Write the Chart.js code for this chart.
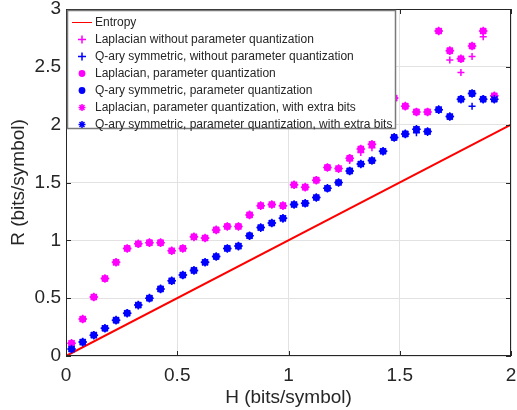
<!DOCTYPE html>
<html lang="en">
<head>
<meta charset="UTF-8">
<title>Rate vs entropy</title>
<script src="https://cdn.jsdelivr.net/npm/chart.js"></script>
<style>
  html, body { margin: 0; padding: 0; background: #fff; }
  #wrap { width: 517px; height: 410px; }
</style>
</head>
<body>
<div id="wrap"><canvas id="rateChart" width="517" height="410"></canvas></div>
<script>
// entropy H of each test source (bits/symbol)
const H = [0.025, 0.075, 0.125, 0.175, 0.225, 0.275, 0.325, 0.375, 0.425, 0.475,
           0.525, 0.575, 0.625, 0.675, 0.725, 0.775, 0.825, 0.875, 0.925, 0.975,
           1.025, 1.075, 1.125, 1.175, 1.225, 1.275, 1.325, 1.375, 1.425, 1.475,
           1.525, 1.575, 1.625, 1.675, 1.725, 1.775, 1.825, 1.875, 1.925];

// entropy bound R = H
const entropyH = [0, 2];
const entropyR = [0, 2];

// Laplacian without parameter quantization
const lapPlain = [0.11, 0.32, 0.51, 0.67, 0.81, 0.93, 0.97, 0.98, 0.98, 0.91,
                  0.93, 1.03, 1.02, 1.09, 1.12, 1.12, 1.22, 1.30, 1.31, 1.30,
                  1.48, 1.46, 1.52, 1.63, 1.62, 1.69, 1.76, 1.80, 2.05, 2.23,
                  2.16, 2.11, 2.11, 2.81, 2.56, 2.45, 2.59, 2.76, 2.25];
// Q-ary symmetric without parameter quantization
const qPlain = [0.06, 0.12, 0.18, 0.24, 0.31, 0.37, 0.44, 0.50, 0.58, 0.65,
                0.70, 0.74, 0.81, 0.86, 0.93, 0.95, 1.04, 1.11, 1.15, 1.19,
                1.31, 1.32, 1.37, 1.45, 1.50, 1.60, 1.66, 1.69, 1.77, 1.89,
                1.92, 1.93, 1.94, 2.13, 2.07, 2.22, 2.16, 2.22, 2.22];
// Laplacian, parameter quantization
const lapQuant = [0.11, 0.32, 0.51, 0.67, 0.81, 0.93, 0.97, 0.98, 0.98, 0.91,
                  0.93, 1.03, 1.02, 1.09, 1.12, 1.12, 1.22, 1.30, 1.31, 1.30,
                  1.48, 1.46, 1.52, 1.63, 1.62, 1.71, 1.79, 1.83, 2.05, 2.23,
                  2.16, 2.11, 2.11, 2.81, 2.64, 2.57, 2.68, 2.81, 2.25];
// Q-ary symmetric, parameter quantization
const qQuant = [0.06, 0.12, 0.18, 0.24, 0.31, 0.37, 0.44, 0.50, 0.58, 0.65,
                0.70, 0.74, 0.81, 0.86, 0.93, 0.95, 1.04, 1.11, 1.15, 1.19,
                1.31, 1.32, 1.37, 1.45, 1.50, 1.60, 1.66, 1.69, 1.77, 1.89,
                1.92, 1.96, 1.94, 2.13, 2.07, 2.22, 2.27, 2.22, 2.22];
// with extra bits (sit on top of the quantized points)
const lapExtra = [0.11, 0.32, 0.51, 0.67, 0.81, 0.93, 0.97, 0.98, 0.98, 0.91,
                  0.93, 1.03, 1.02, 1.09, 1.12, 1.12, 1.22, 1.30, 1.31, 1.30,
                  1.48, 1.46, 1.52, 1.63, 1.62, 1.71, 1.79, 1.83, 2.05, 2.23,
                  2.16, 2.11, 2.11, 2.81, 2.64, 2.57, 2.68, 2.81, 2.25];
const qExtra = [0.06, 0.12, 0.18, 0.24, 0.31, 0.37, 0.44, 0.50, 0.58, 0.65,
                0.70, 0.74, 0.81, 0.86, 0.93, 0.95, 1.04, 1.11, 1.15, 1.19,
                1.31, 1.32, 1.37, 1.45, 1.50, 1.60, 1.66, 1.69, 1.77, 1.89,
                1.92, 1.96, 1.94, 2.13, 2.07, 2.22, 2.27, 2.22, 2.22];

const xTicks = [0, 0.5, 1, 1.5, 2];
const yTicks = [0, 0.5, 1, 1.5, 2, 2.5, 3];

const FONT = '"Liberation Sans", Arial, sans-serif';
const TXT = '#262626';

function pts(xs, ys) {
    return ys.map((y, i) => ({ x: xs[i], y: y }));
}

const series = [
    { label: 'Entropy', data: pts(entropyH, entropyR), color: '#ff0000', style: 'line' },
    { label: 'Laplacian without parameter quantization', data: pts(H, lapPlain), color: '#ff00ff', style: 'cross', r: 3.5 },
    { label: 'Q-ary symmetric, without parameter quantization', data: pts(H, qPlain), color: '#0000ff', style: 'cross', r: 3.5 },
    { label: 'Laplacian, parameter quantization', data: pts(H, lapQuant), color: '#ff00ff', style: 'circle', r: 3.6 },
    { label: 'Q-ary symmetric, parameter quantization', data: pts(H, qQuant), color: '#0000ff', style: 'circle', r: 3.6 },
    { label: 'Laplacian, parameter quantization, with extra bits', data: pts(H, lapExtra), color: '#ff00ff', style: 'star', r: 4.3 },
    { label: 'Q-ary symmetric, parameter quantization, with extra bits', data: pts(H, qExtra), color: '#0000ff', style: 'star', r: 4.3 }
];

const datasets = series.map((s, i) => {
    if (s.style === 'line') {
        return {
            label: s.label, data: s.data, showLine: true, borderColor: s.color,
            borderWidth: 2, pointRadius: 0, order: 10 - i
        };
    }
    return {
        label: s.label, data: s.data, showLine: false,
        pointStyle: s.style, pointRadius: s.r, pointHoverRadius: s.r,
        borderColor: s.color, backgroundColor: s.color,
        borderWidth: s.style === 'circle' ? 0 : 1.5, order: 10 - i
    };
});

// legend marker, drawn by hand so it matches the plotted one
function marker(ctx, style, color, x, y) {
    ctx.save();
    ctx.strokeStyle = color;
    ctx.fillStyle = color;
    ctx.lineWidth = 1.5;
    ctx.beginPath();
    if (style === 'line') {
        ctx.lineWidth = 1;
        ctx.moveTo(x - 10, y); ctx.lineTo(x + 10, y); ctx.stroke();
    } else if (style === 'circle') {
        ctx.arc(x, y, 3.4, 0, Math.PI * 2); ctx.fill();
    } else if (style === 'cross') {
        ctx.moveTo(x - 4, y); ctx.lineTo(x + 4, y);
        ctx.moveTo(x, y - 4); ctx.lineTo(x, y + 4); ctx.stroke();
    } else {
        const r = 3.5, d = r * Math.SQRT1_2;
        ctx.moveTo(x - r, y); ctx.lineTo(x + r, y);
        ctx.moveTo(x, y - r); ctx.lineTo(x, y + r);
        ctx.moveTo(x - d, y - d); ctx.lineTo(x + d, y + d);
        ctx.moveTo(x - d, y + d); ctx.lineTo(x + d, y - d); ctx.stroke();
    }
    ctx.restore();
}

const boxPlugin = {
    id: 'boxPlugin',
    afterDatasetsDraw(chart) {
        const { ctx, chartArea: a, scales } = chart;
        ctx.save();
        // axes box with inward ticks on all sides
        ctx.strokeStyle = TXT;
        ctx.lineWidth = 1;
        ctx.strokeRect(a.left + 0.5, a.top + 0.5, a.right - a.left - 1, a.bottom - a.top - 1);
        ctx.beginPath();
        xTicks.forEach(v => {
            const px = Math.round(scales.x.getPixelForValue(v)) + 0.5;
            ctx.moveTo(px, a.bottom); ctx.lineTo(px, a.bottom - 5);
            ctx.moveTo(px, a.top); ctx.lineTo(px, a.top + 5);
        });
        yTicks.forEach(v => {
            const py = Math.round(scales.y.getPixelForValue(v)) + 0.5;
            ctx.moveTo(a.left, py); ctx.lineTo(a.left + 5, py);
            ctx.moveTo(a.right, py); ctx.lineTo(a.right - 5, py);
        });
        ctx.stroke();

        // legend box, top left inside the axes
        const lx = 67, ly = 10, lw = 329, lh = 119;
        ctx.fillStyle = '#ffffff';
        ctx.fillRect(lx, ly, lw, lh);
        ctx.strokeStyle = '#7a7a7a';
        ctx.lineWidth = 1.5;
        ctx.strokeRect(lx + 0.5, ly + 0.5, lw - 1, lh - 1);
        ctx.font = '12px ' + FONT;
        ctx.textBaseline = 'middle';
        series.forEach((s, i) => {
            const y = 22.5 + i * 17;
            marker(ctx, s.style, s.color, 82, y);
            ctx.fillStyle = TXT;
            ctx.fillText(s.label, 95, y + 0.5);
        });
        ctx.restore();
    }
};

new Chart(document.getElementById('rateChart').getContext('2d'), {
    type: 'scatter',
    data: { datasets: datasets },
    options: {
        responsive: false,
        animation: false,
        events: [],
        layout: { padding: { top: 9, right: 6, left: 0, bottom: 0 } },
        plugins: { legend: { display: false }, tooltip: { enabled: false } },
        scales: {
            x: {
                type: 'linear', min: 0, max: 2,
                afterFit(scale) {
                    scale.height = 54;
                    scale.paddingLeft = 0;
                    scale.paddingRight = 0;
                },
                afterBuildTicks(scale) { scale.ticks = xTicks.map(v => ({ value: v })); },
                grid: { color: '#e2e2e2', drawTicks: false },
                border: { display: false },
                ticks: { padding: 8, color: TXT, font: { family: FONT, size: 19 }, maxRotation: 0,
                         callback: v => String(v) },
                title: { display: true, text: 'H (bits/symbol)', color: TXT, padding: { top: 0, bottom: 1 },
                         font: { family: FONT, size: 19 } }
            },
            y: {
                type: 'linear', min: 0, max: 3,
                afterFit(scale) {
                    scale.width = 66;
                    scale.paddingTop = 0;
                    scale.paddingBottom = 0;
                },
                afterBuildTicks(scale) { scale.ticks = yTicks.map(v => ({ value: v })); },
                grid: { color: '#e2e2e2', drawTicks: false },
                border: { display: false },
                ticks: { padding: 5, color: TXT, font: { family: FONT, size: 19 },
                         callback: v => String(v) },
                title: { display: true, text: 'R (bits/symbol)', color: TXT, padding: { top: 7, bottom: 0 },
                         font: { family: FONT, size: 19 } }
            }
        }
    },
    plugins: [boxPlugin]
});
</script>
</body>
</html>
